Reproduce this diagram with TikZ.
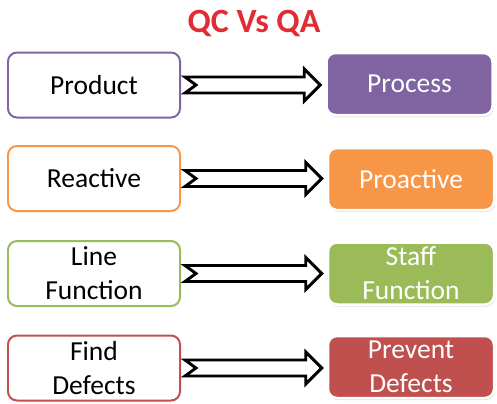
\documentclass[tikz,border=0pt]{standalone}
\usepackage{fontspec}
\setmainfont{Carlito}
\usetikzlibrary{calc,shadows}
\definecolor{cpurple}{HTML}{8064A2}
\definecolor{corange}{HTML}{F79646}
\definecolor{cgreen}{HTML}{9BBB59}
\definecolor{cred}{HTML}{C0504D}
\definecolor{ctitle}{RGB}{224,44,50}
\tikzset{
  leftbox/.style={draw=#1, line width=2pt, fill=white, rounded corners=9bp,
    minimum width=172bp, minimum height=65bp, inner sep=0pt, align=center,
    font=\fontsize{27.5bp}{34bp}\selectfont, text=black},
  rightbox/.style={draw=white, line width=2.5pt, fill=#1, rounded corners=9bp,
    minimum width=166bp, minimum height=62bp, inner sep=0pt, align=center,
    font=\fontsize{27.5bp}{34bp}\selectfont, text=white,
    drop shadow={opacity=0.25, shadow xshift=1bp, shadow yshift=-2bp}},
  fatarrow/.style={draw=black, line width=2.9pt, fill=white, line join=miter},
}
\newcommand\fatarrow[2]{%
  \draw[fatarrow] let \p1=($(#1.east)+(4,0)$), \p2=($(#2.west)+(-5,0)$) in
   (\x1,\y1+8bp) -- (\x1+11bp,\y1) -- (\x1,\y1-8bp) -- (\x2-16bp,\y1-8bp)
   -- (\x2-16bp,\y1-16bp) -- (\x2,\y1) -- (\x2-16bp,\y1+16bp)
   -- (\x2-16bp,\y1+8bp) -- cycle;}
\begin{document}
\begin{tikzpicture}[x=1bp,y=-1bp]
\useasboundingbox (0,0) rectangle (497,403);
\node[font=\fontsize{34bp}{40bp}\selectfont\bfseries, text=ctitle, anchor=base] (title) at (254,32) {QC Vs QA};

\node[leftbox=cpurple] (l1) at (94,85) {Product};
\node[leftbox=corange] (l2) at (94,178.5) {Reactive};
\node[leftbox=cgreen] (l3) at (94,273.5) {Line\\Function};
\node[leftbox=cred] (l4) at (94,368) {Find\\Defects};

\node[rightbox=cpurple] (r1) at (409.5,84) {Process};
\node[rightbox=corange] (r2) at (411,179) {Proactive};
\node[rightbox=cgreen] (r3) at (411,273.5) {Staff\\Function};
\node[rightbox=cred] (r4) at (411,367) {Prevent\\Defects};

\fatarrow{l1}{r1}
\fatarrow{l2}{r2}
\fatarrow{l3}{r3}
\fatarrow{l4}{r4}
\end{tikzpicture}
\end{document}
